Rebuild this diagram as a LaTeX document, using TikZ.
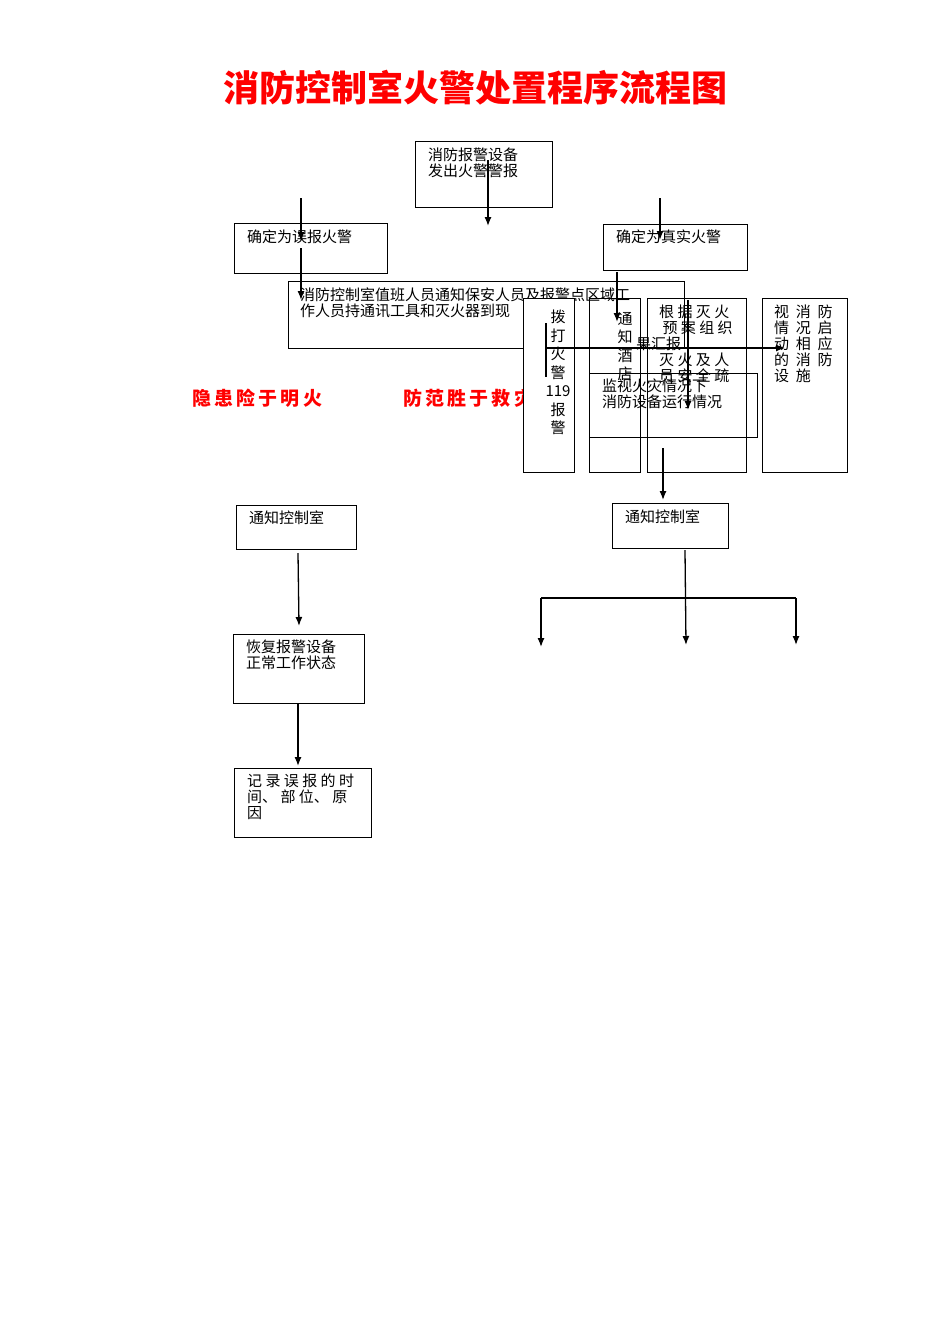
\documentclass[tikz,border=0pt]{standalone}
\usepackage{fontspec}
\setmainfont{Noto Sans CJK SC}
\usetikzlibrary{arrows.meta}
\begin{document}
\begin{tikzpicture}[x=1pt,y=-1pt,
  bx/.style={draw,line width=0.8pt},
  wb/.style={draw,line width=0.8pt,fill=white},
  tx/.style={anchor=north west,inner sep=0pt,font=\fontsize{15}{16}\selectfont,align=left},
  vt/.style={anchor=north,inner sep=0pt,font=\fontsize{15}{18.5}\selectfont,align=center},
  ar/.style={line width=1.3pt,-{Latex[length=9pt,width=7pt]}},
  ln/.style={line width=1.3pt},
  red/.style={text=red,font=\fontsize{19}{20}\bfseries\selectfont,inner sep=0pt}]
\useasboundingbox (0,0) rectangle (950,1344);
\node[text=red,font=\fontsize{36}{38}\bfseries\selectfont] (title) at (475,88) {消防控制室火警处置程序流程图};
% top box
\draw[bx] (415,141) rectangle (552,207);
\node[tx] (a) at (428,148) {消防报警设备\\发出火警警报};
\coordinate (a1) at (488,160); \coordinate (a2) at (488,226);
\draw[ar] (a1) -- (a2);
% false
\draw[bx] (234,223) rectangle (387,273);
\node[tx] (b) at (247,230) {确定为误报火警};
\coordinate (b1) at (301,198); \coordinate (b2) at (301,241);
\coordinate (b3) at (301,248); \coordinate (b4) at (301,300);
\draw[ar] (b1) -- (b2); \draw[ar] (b3) -- (b4);
% true
\draw[bx] (603,224) rectangle (747,270);
\node[tx] (c) at (616,230) {确定为真实火警};
\coordinate (c1) at (660,198); \coordinate (c2) at (660,240);
\draw[ar] (c1) -- (c2);
% big box
\draw[bx] (288,281) rectangle (684,348);
\node[tx] (d) at (300,288) {消防控制室值班人员通知保安人员及报警点区域工\\作人员持通讯工具和灭火器到现};
% slogans
\node[red,anchor=west] (s1) at (192,398) {隐\,患\,险\,于\,明\,火};
\node[red,anchor=west] (s2) at (403,398) {防\,范\,胜\,于\,救\,灾};
% column boxes
\draw[wb] (523,298) rectangle (574,472);
\node[vt] (e) at (558,310) {拨\\打\\火\\警\\119\\报\\警};
\draw[bx] (589,298) rectangle (640,472);
\node[vt] (f) at (625,312) {通\\知\\酒\\店};
\draw[bx] (647,298) rectangle (746,472);
\node[tx] (g) at (659,305) {根 据 灭 火\\\ 预 案 组 织\\\\灭 火 及 人\\员 安 全 疏};
\node[tx] (g2) at (636,337) {果汇报};
\draw[bx] (762,298) rectangle (847,472);
\node[tx] (h) at (774,305) {视\ \ 消\ \ 防\\情\ \ 况\ \ 启\\动\ \ 相\ \ 应\\的\ \ 消\ \ 防\\设\ \ 施};
\draw[bx] (589,373) rectangle (757,437);
\node[tx] (i) at (602,379) {监视火灾情况下\\消防设备运行情况};
% connectors among columns
\coordinate (v1) at (546,323); \coordinate (v2) at (546,377);
\draw[ln] (v1) -- (v2);
\coordinate (h1) at (546,348); \coordinate (h2) at (785,348);
\draw[ar] (h1) -- (h2);
\coordinate (t1) at (617,272); \coordinate (t2) at (617,322);
\draw[ar] (t1) -- (t2);
\coordinate (g3) at (688,300); \coordinate (g4) at (688,410);
\draw[ar] (g3) -- (g4);
\coordinate (m0) at (663,448); \coordinate (m1) at (663,500);
\draw[ar] (m0) -- (m1);
% left chain
\draw[bx] (236,505) rectangle (356,549);
\node[tx] (j) at (249,511) {通知控制室};
\coordinate (j1) at (298,553); \coordinate (j2) at (299,626);
\draw[ar] (j1) -- (j2);
\draw[bx] (233,634) rectangle (364,703);
\node[tx] (k) at (246,640) {恢复报警设备\\正常工作状态};
\coordinate (k1) at (298,703); \coordinate (k2) at (298,766);
\draw[ar] (k1) -- (k2);
\draw[bx] (234,768) rectangle (371,837);
\node[tx] (l) at (247,774) {记 录 误 报 的 时\\间、 部 位、 原\\因};
% right
\draw[bx] (612,503) rectangle (728,548);
\node[tx] (m) at (625,510) {通知控制室};
\coordinate (n1) at (685,550); \coordinate (n2) at (686,645);
\draw[ar] (n1) -- (n2);
\coordinate (p1) at (541,598); \coordinate (p2) at (796,598);
\draw[ln] (p1) -- (p2);
\coordinate (q1) at (541,647); \coordinate (q2) at (796,645);
\draw[ar] (p1) -- (q1); \draw[ar] (p2) -- (q2);
\end{tikzpicture}
\end{document}
